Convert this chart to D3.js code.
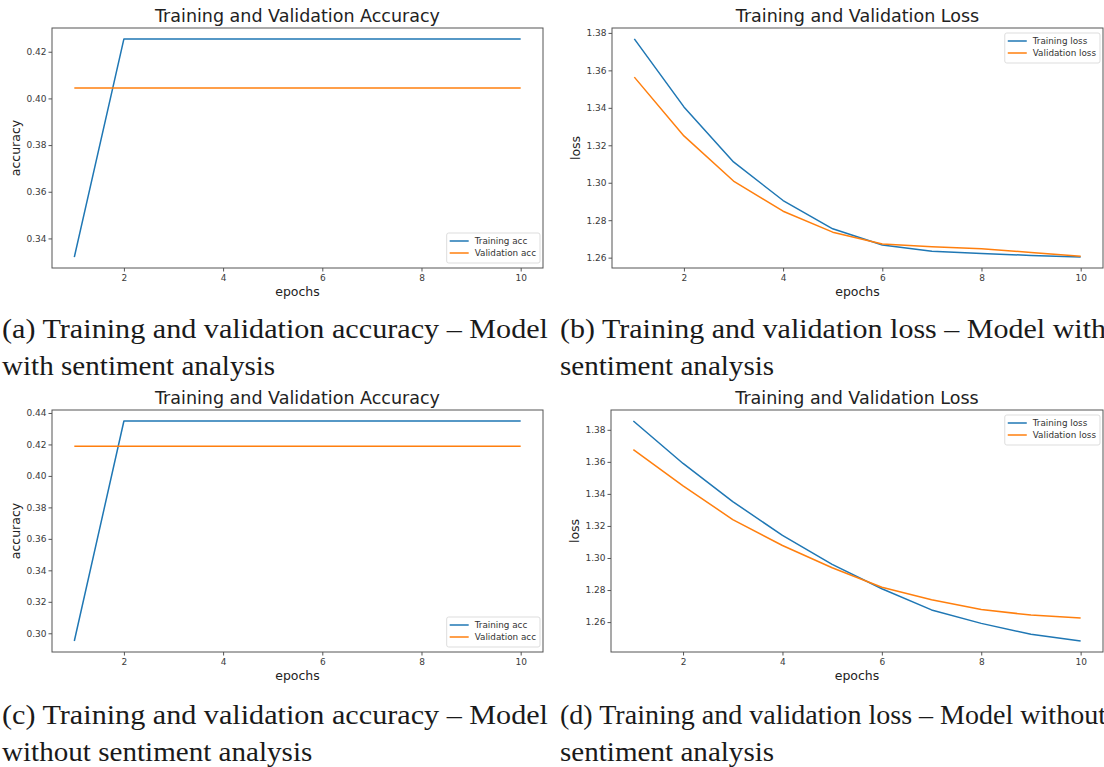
<!DOCTYPE html>
<html>
<head>
<meta charset="utf-8">
<script src="https://cdn.jsdelivr.net/npm/d3@7"></script>
<style>
  html, body { margin: 0; padding: 0; background: #fff; }
  svg { display: block; }
  .tick text { font-family: "DejaVu Sans", sans-serif; font-size: 9px; fill: #3a3a3a; }
  .tick line { stroke: #555; }
  .domain { display: none; }
</style>
</head>
<body>
<svg id="chart" width="1104" height="767"></svg>
<script>
// Training history, one entry per epoch
const epochs = [1, 2, 3, 4, 5, 6, 7, 8, 9, 10];

// Model with sentiment analysis
const accTrainWith  = [0.332, 0.4255, 0.4255, 0.4255, 0.4255, 0.4255, 0.4255, 0.4255, 0.4255, 0.4255];
const accValWith    = [0.4045, 0.4045, 0.4045, 0.4045, 0.4045, 0.4045, 0.4045, 0.4045, 0.4045, 0.4045];
const lossTrainWith = [1.3768, 1.3405, 1.3111, 1.2905, 1.2754, 1.2668, 1.2634, 1.2622, 1.2612, 1.2603];
const lossValWith   = [1.3564, 1.3250, 1.3009, 1.2848, 1.2736, 1.2673, 1.2658, 1.2648, 1.2628, 1.2607];

// Model without sentiment analysis
const accTrainWithout  = [0.2951, 0.4349, 0.4349, 0.4349, 0.4349, 0.4349, 0.4349, 0.4349, 0.4349, 0.4349];
const accValWithout    = [0.4189, 0.4189, 0.4189, 0.4189, 0.4189, 0.4189, 0.4189, 0.4189, 0.4189, 0.4189];
const lossTrainWithout = [1.3855, 1.3590, 1.3352, 1.3141, 1.2960, 1.2808, 1.2676, 1.2592, 1.2524, 1.2482];
const lossValWithout   = [1.3676, 1.3450, 1.3240, 1.3078, 1.2939, 1.2817, 1.2739, 1.2678, 1.2644, 1.2625];

// Tick values
const epochTicks       = [2, 4, 6, 8, 10];
const accTicksWith     = [0.34, 0.36, 0.38, 0.40, 0.42];
const accTicksWithout  = [0.30, 0.32, 0.34, 0.36, 0.38, 0.40, 0.42, 0.44];
const lossTicks        = [1.26, 1.28, 1.30, 1.32, 1.34, 1.36, 1.38];

// Texts
const titles     = ["Training and Validation Accuracy", "Training and Validation Loss"];
const yLabels    = ["accuracy", "loss"];
const xLabel     = "epochs";
const accLegend  = ["Training acc", "Validation acc"];
const lossLegend = ["Training loss", "Validation loss"];
const captions = [
  ["(a) Training and validation accuracy \u2013 Model", "with sentiment analysis"],
  ["(b) Training and validation loss \u2013 Model with", "sentiment analysis"],
  ["(c) Training and validation accuracy \u2013 Model", "without sentiment analysis"],
  ["(d) Training and validation loss \u2013 Model without", "sentiment analysis"]
];

const BLUE = "#1f77b4", ORANGE = "#ff7f0e";

const svg = d3.select("#chart");

const panels = [
  { box: [52, 543, 28, 268],  train: accTrainWith,     val: accValWith,     ticks: accTicksWith,    fmt: ".2f", title: titles[0], ylab: yLabels[0], legend: accLegend,  legendPos: "lower" },
  { box: [612, 1103, 28, 268], train: lossTrainWith,   val: lossValWith,    ticks: lossTicks,       fmt: ".2f", title: titles[1], ylab: yLabels[1], legend: lossLegend, legendPos: "upper" },
  { box: [52, 543, 410, 652], train: accTrainWithout,  val: accValWithout,  ticks: accTicksWithout, fmt: ".2f", title: titles[0], ylab: yLabels[0], legend: accLegend,  legendPos: "lower" },
  { box: [611, 1103, 410, 652], train: lossTrainWithout, val: lossValWithout, ticks: lossTicks,     fmt: ".2f", title: titles[1], ylab: yLabels[1], legend: lossLegend, legendPos: "upper" }
];

// matplotlib-style auto limits: data extent padded by 5% on each side
function padded(extent) {
  const span = extent[1] - extent[0];
  return [extent[0] - span * 0.05, extent[1] + span * 0.05];
}

panels.forEach(p => {
  const [x0, x1, y0, y1] = p.box;
  const x = d3.scaleLinear().domain(padded(d3.extent(epochs))).range([x0, x1]);
  const y = d3.scaleLinear().domain(padded(d3.extent(p.train.concat(p.val)))).range([y1, y0]);
  const g = svg.append("g");

  // axes
  g.append("g").attr("transform", `translate(0,${y1})`)
    .call(d3.axisBottom(x).tickValues(epochTicks).tickSize(3.5).tickPadding(3.5).tickFormat(d3.format("d")));
  g.append("g").attr("transform", `translate(${x0},0)`)
    .call(d3.axisLeft(y).tickValues(p.ticks).tickSize(3.5).tickPadding(2).tickFormat(d3.format(p.fmt)));

  // series
  const line = d3.line().x((d, i) => x(epochs[i])).y(d => y(d));
  g.append("path").datum(p.train).attr("d", line)
    .attr("fill", "none").attr("stroke", BLUE).attr("stroke-width", 1.5).attr("stroke-linejoin", "round");
  g.append("path").datum(p.val).attr("d", line)
    .attr("fill", "none").attr("stroke", ORANGE).attr("stroke-width", 1.5).attr("stroke-linejoin", "round");

  // frame
  g.append("rect").attr("x", x0).attr("y", y0).attr("width", x1 - x0).attr("height", y1 - y0)
    .attr("fill", "none").attr("stroke", "#555").attr("stroke-width", 1);

  // title and labels
  g.append("text").attr("x", (x0 + x1) / 2).attr("y", y0 - 6)
    .attr("text-anchor", "middle").attr("font-family", "DejaVu Sans, sans-serif")
    .attr("font-size", 17.5).attr("fill", "#222").text(p.title);
  g.append("text").attr("x", (x0 + x1) / 2).attr("y", y1 + 28)
    .attr("text-anchor", "middle").attr("font-family", "DejaVu Sans, sans-serif")
    .attr("font-size", 12.5).attr("fill", "#222").text(xLabel);
  g.append("text").attr("transform", `translate(${x0 - 32},${(y0 + y1) / 2}) rotate(-90)`)
    .attr("text-anchor", "middle").attr("font-family", "DejaVu Sans, sans-serif")
    .attr("font-size", 12.5).attr("fill", "#222").text(p.ylab);

  // legend
  const lg = g.append("g");
  const items = lg.selectAll("g.item").data(p.legend).join("g").attr("class", "item");
  items.append("line").attr("x1", 3).attr("x2", 22).attr("y1", (d, i) => 8 + i * 12).attr("y2", (d, i) => 8 + i * 12)
    .attr("stroke", (d, i) => i === 0 ? BLUE : ORANGE).attr("stroke-width", 1.5);
  items.append("text").attr("x", 28).attr("y", (d, i) => 8 + i * 12).attr("dy", "0.35em")
    .attr("font-family", "DejaVu Sans, sans-serif").attr("font-size", 8.8).attr("fill", "#333").text(d => d);
  const w = d3.max(items.selectAll("text").nodes(), n => n.getComputedTextLength()) + 32;
  const h = 30;
  lg.insert("rect", ":first-child").attr("x", 0).attr("y", 0).attr("width", w).attr("height", h)
    .attr("rx", 2).attr("fill", "#fff").attr("fill-opacity", 0.8).attr("stroke", "#ddd").attr("stroke-width", 1);
  const lx = x1 - 3 - w;
  const ly = p.legendPos === "lower" ? y1 - 5 - h : y0 + 5;
  lg.attr("transform", `translate(${lx},${ly})`);
});

// Sub-figure captions
const capFont = "Liberation Serif, serif";
const capSize = 26.5;
const capLineWidth = 546;
const capPos = [[2, 338], [560, 338], [2, 724], [560, 724]];

// horizontal stretch for the second lines, slightly narrower than a justified first line
const probe = svg.append("text").attr("font-family", capFont).attr("font-size", capSize).text(captions[0][0]);
const stretch = 0.965 * capLineWidth / probe.node().getComputedTextLength();
probe.remove();

captions.forEach((c, k) => {
  const [cx, cy] = capPos[k];
  svg.append("text").attr("x", cx).attr("y", cy)
    .attr("font-family", capFont).attr("font-size", capSize).attr("fill", "#1a1a1a")
    .attr("textLength", capLineWidth).attr("lengthAdjust", "spacingAndGlyphs").text(c[0]);
  svg.append("text").attr("transform", `translate(${cx},${cy + 37}) scale(${stretch},1)`)
    .attr("font-family", capFont).attr("font-size", capSize).attr("fill", "#1a1a1a").text(c[1]);
});
</script>
</body>
</html>
